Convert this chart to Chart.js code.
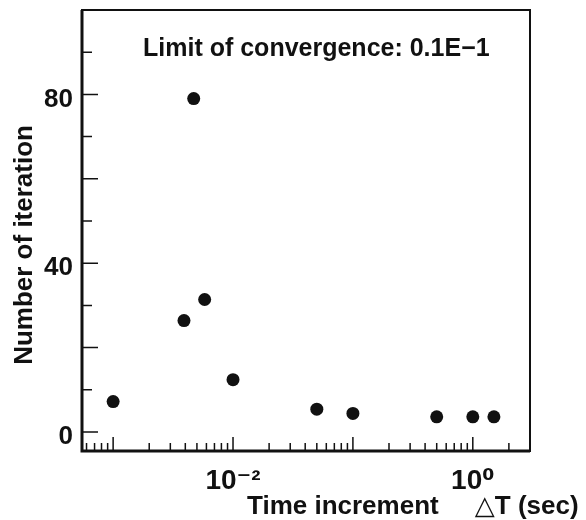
<!DOCTYPE html>
<html>
<head>
<meta charset="utf-8">
<script src="https://cdn.jsdelivr.net/npm/chart.js@4.4.1/dist/chart.umd.min.js"></script>
<style>
  html, body { margin: 0; padding: 0; background: #fff; }
  #wrap { width: 586px; height: 520px; }
</style>
</head>
<body>
<div id="wrap"><canvas id="chart"></canvas></div>
<script>
// values
const timeStep = [0.001, 0.0039, 0.0047, 0.0058, 0.01, 0.05, 0.1, 0.5, 1, 1.5];
const iterations = [7.2, 26.4, 79, 31.4, 12.4, 5.4, 4.4, 3.6, 3.6, 3.6];
const xTickValues = [0.01, 1];
const xTickLabels = ['10⁻²', '10⁰'];
const yTickValues = [0, 40, 80];

const FONT = "'Liberation Sans', Arial, 'DejaVu Sans', sans-serif";
const INK = '#111';

// box around the plot + ticks pointing inward + the free texts
const framePlugin = {
    id: 'frame',
    afterDraw(chart) {
        const ctx = chart.ctx;
        const area = chart.chartArea;
        const x = chart.scales.x;
        const y = chart.scales.y;
        ctx.save();
        ctx.strokeStyle = INK;
        ctx.lineWidth = 2;
        ctx.strokeRect(area.left, area.top, area.right - area.left, area.bottom - area.top);
        ctx.lineWidth = 3;
        ctx.beginPath();
        ctx.moveTo(area.left, area.top);
        ctx.lineTo(area.left, area.bottom);
        ctx.lineTo(area.right, area.bottom);
        ctx.stroke();

        ctx.lineWidth = 1.5;
        ctx.beginPath();
        for (let v = 0; v <= 100; v += 10) {
            const py = y.getPixelForValue(v);
            const len = v % 20 === 0 ? 16 : 10;
            ctx.moveTo(area.left, py);
            ctx.lineTo(area.left + len, py);
        }
        for (let d = -4; d <= 0; d++) {
            for (let k = 1; k <= 9; k++) {
                const v = k * Math.pow(10, d);
                if (v < x.min || v > x.max) continue;
                const px = x.getPixelForValue(v);
                const len = k === 1 ? 14 : 8;
                ctx.moveTo(px, area.bottom);
                ctx.lineTo(px, area.bottom - len);
            }
        }
        ctx.stroke();

        ctx.fillStyle = INK;
        ctx.textBaseline = 'alphabetic';
        ctx.textAlign = 'left';
        ctx.font = 'bold 25px ' + FONT;
        ctx.fillText('Limit of convergence: 0.1E\u22121', 143, 56);
        ctx.font = 'bold 26px ' + FONT;
        ctx.fillText('Time increment     \u25B3T (sec)', 247, 514);
        ctx.restore();
    }
};

new Chart(document.getElementById('chart').getContext('2d'), {
    type: 'scatter',
    data: {
        datasets: [{
            data: timeStep.map((t, i) => ({ x: t, y: iterations[i] })),
            backgroundColor: INK,
            borderWidth: 0,
            pointRadius: 6.5,
            pointHoverRadius: 6.5
        }]
    },
    options: {
        responsive: true,
        maintainAspectRatio: false,
        animation: false,
        layout: {
            padding: { top: 10, right: 56, left: 0, bottom: 0 }
        },
        plugins: {
            legend: { display: false },
            tooltip: { enabled: false }
        },
        scales: {
            x: {
                type: 'logarithmic',
                min: 0.00055,
                max: 3,
                grid: { display: false, drawTicks: false },
                border: { display: false },
                afterBuildTicks: (scale) => {
                    scale.ticks = xTickValues.map(v => ({ value: v }));
                },
                afterFit: (scale) => {
                    scale.height = 69;
                    scale.paddingLeft = 0;
                    scale.paddingRight = 0;
                },
                ticks: {
                    autoSkip: false,
                    maxRotation: 0,
                    padding: 13,
                    color: INK,
                    font: { family: FONT, size: 28, weight: 'bold' },
                    callback: (v, i) => xTickLabels[i]
                }
            },
            y: {
                min: -4.5,
                max: 100,
                grid: { display: false, drawTicks: false },
                border: { display: false },
                afterBuildTicks: (scale) => {
                    scale.ticks = yTickValues.map(v => ({ value: v }));
                },
                afterFit: (scale) => {
                    scale.width = 82;
                    scale.paddingTop = 0;
                    scale.paddingBottom = 0;
                },
                ticks: {
                    padding: 9,
                    labelOffset: 5,
                    color: INK,
                    font: { family: FONT, size: 26, weight: 'bold' }
                },
                title: {
                    display: true,
                    text: 'Number of iteration    ',
                    color: INK,
                    padding: { top: 9, bottom: 0 },
                    font: { family: FONT, size: 26, weight: 'bold' }
                }
            }
        }
    },
    plugins: [framePlugin]
});
</script>
</body>
</html>
